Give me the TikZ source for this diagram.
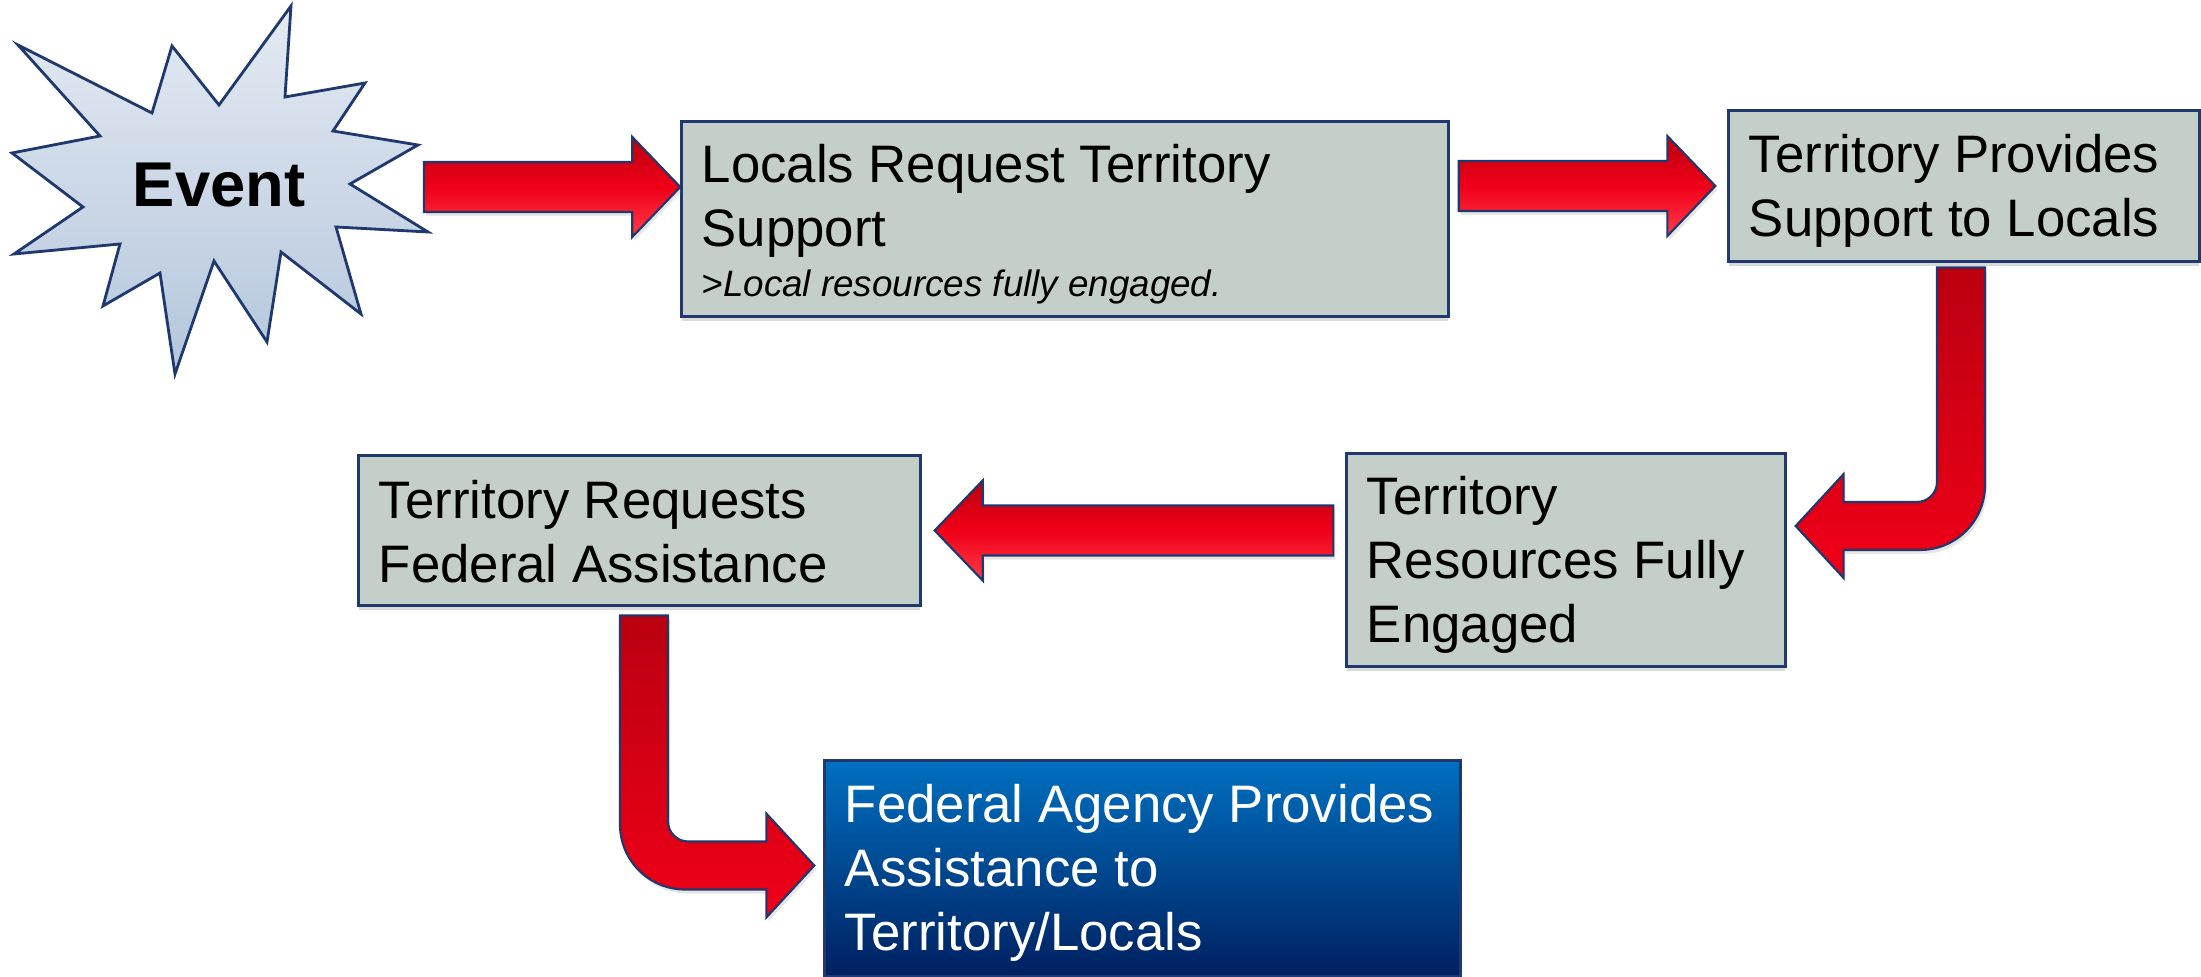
\documentclass[tikz,border=0pt]{standalone}
\usepackage{fontspec}
\setmainfont{Liberation Sans}
\usetikzlibrary{calc,shadows}

\definecolor{boxgrey}{RGB}{197,207,201}
\definecolor{navy}{RGB}{31,56,110}
\definecolor{arrowdark}{RGB}{186,0,16}
\definecolor{arrowred}{RGB}{240,0,24}
\definecolor{arrowlight}{RGB}{255,60,72}
\definecolor{fedtop}{RGB}{0,112,192}
\definecolor{fedbottom}{RGB}{0,32,96}
\definecolor{startop}{RGB}{228,234,242}
\definecolor{starbottom}{RGB}{180,198,220}

\newcommand\mainsize{\fontsize{15}{18.2}\selectfont}
\newcommand\notesize{\fontsize{10.45}{12.5}\selectfont}

% straight block arrow: tail, tip, direction (1 right, -1 left)
\newcommand\blockarrow[3]{%
  \path[flatarrow] let \p1=(#1), \p2=(#2) in
    (\x1,{\y1+0.25cm}) -- ({\x2-(#3)*0.48cm},{\y1+0.25cm}) -- ({\x2-(#3)*0.48cm},{\y1+0.5cm})
    -- (\x2,\y1) -- ({\x2-(#3)*0.48cm},{\y1-0.5cm}) -- ({\x2-(#3)*0.48cm},{\y1-0.25cm})
    -- (\x1,{\y1-0.25cm}) -- cycle;}
% bent block arrow: top of shaft, tip, turn (1 right, -1 left)
\newcommand\bentarrow[3]{%
  \path[redarrow] let \p1=(#1), \p2=(#2) in
    ({\x1+(#3)*0.24cm},\y1) -- ({\x1+(#3)*0.24cm},{\y2+0.44cm})
    .. controls ({\x1+(#3)*0.24cm},{\y2+0.33cm}) and ({\x1+(#3)*0.33cm},{\y2+0.24cm}) .. ({\x1+(#3)*0.44cm},{\y2+0.24cm})
    -- ({\x2-(#3)*0.48cm},{\y2+0.24cm}) -- ({\x2-(#3)*0.48cm},{\y2+0.52cm}) -- (\x2,\y2)
    -- ({\x2-(#3)*0.48cm},{\y2-0.52cm}) -- ({\x2-(#3)*0.48cm},{\y2-0.24cm})
    -- ({\x1+(#3)*0.41cm},{\y2-0.24cm})
    .. controls ({\x1+(#3)*0.05cm},{\y2-0.24cm}) and ({\x1-(#3)*0.24cm},{\y2+0.05cm}) .. ({\x1-(#3)*0.24cm},{\y2+0.41cm})
    -- ({\x1-(#3)*0.24cm},\y1) -- cycle;}

\begin{document}
\begin{tikzpicture}[x=0.01cm,y=-0.01cm,
    box/.style={rectangle,draw=navy,line width=0.85pt,fill=boxgrey,align=flush left,
      inner xsep=0.2cm,inner ysep=0pt,font=\mainsize,
      drop shadow={shadow xshift=0pt,shadow yshift=-0.05cm,opacity=0.3}},
    push/.style={execute at begin node={\rule{0pt}{#1}}},
    redarrow/.style={draw=navy,line width=0.6pt,top color=arrowdark,bottom color=arrowred,
      drop shadow={shadow xshift=0.02cm,shadow yshift=-0.04cm,opacity=0.2}},
    flatarrow/.style={redarrow,middle color=arrowred,bottom color=arrowlight,middle color=arrowred}]

  \useasboundingbox (0,0) rectangle (2201,977);

  \path[draw=navy,line width=0.8pt,top color=startop,bottom color=starbottom]
    (291,6) -- (285,97) -- (365,83) -- (333,131) -- (418,145) -- (350,184)
    -- (428,232) -- (336,227) -- (361,314) -- (281,252) -- (267,342) -- (214,261)
    -- (175,374) -- (160,273) -- (103,306) -- (120,244) -- (14,254) -- (83,207)
    -- (12,153) -- (100,136) -- (18,45) -- (152,113) -- (172,46) -- (219,105) -- cycle;
  \node[font=\bfseries\fontsize{18}{20}\selectfont] (event) at (219,185.5) {Event};

  \node[box,push=14.1pt,minimum width=7.66cm,minimum height=1.94cm,text width=7.26cm] (locals) at (1065,219)
    {Locals Request Territory\\Support\\[-4pt]{\notesize\itshape >Local resources fully engaged.}};
  \node[box,push=13.9pt,minimum width=4.7cm,minimum height=1.5cm,text width=4.3cm] (provides) at (1964,186)
    {Territory Provides\\Support to Locals};
  \node[box,push=13.4pt,minimum width=4.38cm,minimum height=2.12cm,text width=3.98cm] (resources) at (1566,560)
    {Territory\\Resources Fully\\Engaged};
  \node[box,push=11.5pt,minimum width=5.61cm,minimum height=1.49cm,text width=5.21cm] (requests) at (639.5,530.5)
    {Territory Requests\\Federal Assistance};
  \node[box,push=13.1pt,top color=fedtop,bottom color=fedbottom,text=white,
    minimum width=6.35cm,minimum height=2.15cm,text width=5.95cm] (federal) at (1142.5,868.5)
    {Federal Agency Provides\\Assistance to\\Territory/Locals};

  \coordinate (tail1) at (424,187);
  \blockarrow{tail1}{locals.west |- provides.west}{1}
  \blockarrow{$(locals.east |- provides.west)+(9,0)$}{$(provides.west)+(-12,0)$}{1}
  \bentarrow{$(provides.south)+(-3,5)$}{$(resources.east)+(9,-34)$}{-1}
  \blockarrow{$(resources.west |- requests.east)+(-12,0)$}{$(requests.east)+(13,0)$}{-1}
  \bentarrow{$(requests.south)+(4.5,9)$}{$(federal.west)+(-9,-3)$}{1}

\end{tikzpicture}
\end{document}
